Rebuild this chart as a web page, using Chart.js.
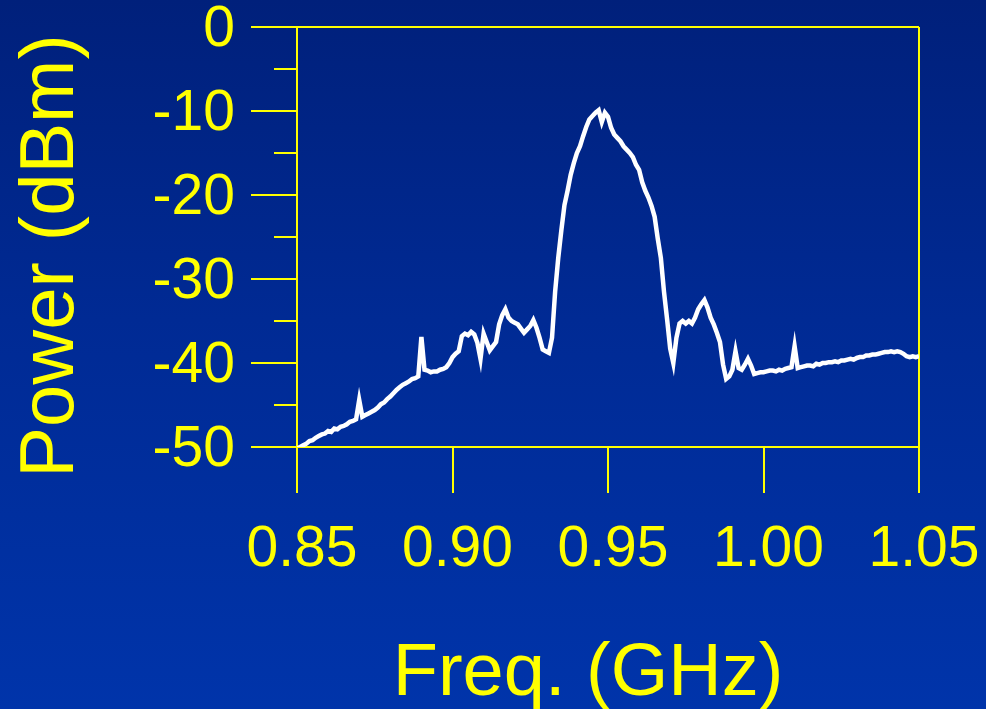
<!DOCTYPE html>
<html>
<head>
<meta charset="utf-8">
<script src="https://cdn.jsdelivr.net/npm/chart.js@4/dist/chart.umd.min.js"></script>
<style>
  html, body { margin: 0; padding: 0; }
  body {
    width: 986px; height: 709px; overflow: hidden;
    background: linear-gradient(180deg, #00207b 0%, #002a94 45%, #0034aa 100%);
  }
  canvas { display: block; }
</style>
</head>
<body>
<canvas id="spectrum" width="986" height="709"></canvas>
<script>
// Sweep: 0.850 GHz to 1.050 GHz in 1 MHz steps
const START_GHZ = 0.850;
const STEP_GHZ = 0.001;

// Measured power, dBm, one value per sweep step
const POWER_DBM = [
  -50.2, -50.0, -49.8, -49.6, -49.3, -49.2, -48.9, -48.7, -48.5, -48.4,
  -48.1, -48.2, -47.8, -47.9, -47.6, -47.5, -47.3, -47.0, -46.9, -46.7,
  -44.4, -46.4, -46.2, -46.0, -45.8, -45.6, -45.3, -44.9, -44.7, -44.3,
  -44.0, -43.6, -43.2, -42.9, -42.6, -42.4, -42.2, -41.9, -41.8, -41.6,
  -36.9, -40.8, -40.9, -41.1, -41.0, -41.0, -40.8, -40.7, -40.5, -40.0,
  -39.3, -38.9, -38.6, -36.8, -36.5, -36.7, -36.3, -36.6, -37.6, -39.5,
  -36.5, -37.5, -38.5, -38.0, -37.5, -35.4, -34.3, -33.6, -34.6, -35.0,
  -35.2, -35.4, -35.9, -36.4, -36.0, -35.6, -34.9, -35.8, -37.0, -38.4,
  -38.6, -38.8, -37.0, -31.5, -27.5, -24.2, -21.2, -19.5, -17.6, -16.2,
  -15.0, -14.2, -13.0, -11.9, -11.0, -10.6, -10.2, -9.9, -11.3, -10.2,
  -10.7, -12.0, -12.8, -13.2, -13.6, -14.2, -14.6, -15.0, -15.5, -16.4,
  -17.0, -18.5, -19.5, -20.3, -21.3, -22.6, -25.2, -27.5, -31.5, -34.8,
  -38.3, -40.0, -37.0, -35.3, -35.0, -35.3, -35.0, -35.3, -34.6, -33.6,
  -33.0, -32.5, -33.4, -34.6, -35.4, -36.4, -37.5, -40.2, -41.9, -41.6,
  -40.8, -38.6, -40.6, -40.8, -40.2, -39.5, -40.3, -41.3, -41.2, -41.1,
  -41.1, -41.0, -40.9, -40.9, -41.0, -40.8, -40.9, -40.7, -40.6, -40.5,
  -38.0, -40.6, -40.5, -40.4, -40.3, -40.3, -40.4, -40.1, -40.2, -40.0,
  -40.0, -39.9, -39.9, -39.8, -39.9, -39.7, -39.7, -39.6, -39.5, -39.6,
  -39.4, -39.3, -39.3, -39.1, -39.1, -39.0, -39.0, -38.9, -38.8, -38.7,
  -38.7, -38.6, -38.7, -38.6, -38.7, -38.9, -39.2, -39.3, -39.2, -39.3,
  -39.2
];

const X_TICKS = [0.85, 0.90, 0.95, 1.00, 1.05];
const X_TICK_LABELS = ['0.85', '0.90', '0.95', '1.00', '1.05'];
const Y_TICKS = [-50, -40, -30, -20, -10, 0];
const Y_TICK_LABELS = ['-50', '-40', '-30', '-20', '-10', '0'];
const Y_MINOR_TICKS = [-45, -35, -25, -15, -5];

const X_TITLE = 'Freq. (GHz)';
const Y_TITLE = 'Power (dBm)';

const YELLOW = '#ffff00';
const TRACE = '#ffffff';
const FONT = '"Liberation Sans", Arial, Helvetica, sans-serif';
const NONE = 'rgba(0,0,0,0)';

const points = POWER_DBM.map((p, i) => ({
  x: +(START_GHZ + i * STEP_GHZ).toFixed(3),
  y: p
}));

// Labels may overhang the plot frame, so the scales claim no edge padding
function noEdgePadding(s) {
  s.paddingTop = 0; s.paddingBottom = 0;
  s.paddingLeft = 0; s.paddingRight = 0;
}

// Axis titles, drawn after the chart
const axisTitles = {
  id: 'axisTitles',
  afterDraw(chart, args, o) {
    const ctx = chart.ctx;
    ctx.save();
    ctx.fillStyle = o.color;
    ctx.textAlign = 'center';
    ctx.textBaseline = 'alphabetic';
    ctx.font = o.xFont;
    ctx.fillText(X_TITLE, o.xAt[0], o.xAt[1]);
    ctx.translate(o.yAt[0], o.yAt[1]);
    ctx.rotate(-Math.PI / 2);
    ctx.font = o.yFont;
    ctx.fillText(Y_TITLE, 0, 0);
    ctx.restore();
  }
};

new Chart(document.getElementById('spectrum'), {
  type: 'line',
  data: {
    datasets: [{
      data: points,
      borderColor: TRACE,
      borderWidth: 4.5,
      pointRadius: 0,
      tension: 0,
      fill: false
    }]
  },
  options: {
    responsive: false,
    animation: false,
    devicePixelRatio: 1,
    layout: { padding: { top: 27, right: 67, bottom: 0, left: 0 } },
    plugins: {
      legend: { display: false },
      tooltip: { enabled: false },
      axisTitles: {
        color: YELLOW,
        xFont: '74px ' + FONT,
        yFont: '76px ' + FONT,
        xAt: [588, 695],
        yAt: [73, 256]
      }
    },
    scales: {
      x: {
        type: 'linear',
        position: 'bottom',
        min: 0.85,
        max: 1.05,
        afterBuildTicks: s => { s.ticks = X_TICKS.map(v => ({ value: v })); },
        afterFit: s => { s.height = 262; noEdgePadding(s); },
        ticks: {
          color: YELLOW,
          font: { family: FONT, size: 57, lineHeight: 0.9 },
          padding: 32,
          labelOffset: 5,
          maxRotation: 0,
          autoSkip: false,
          callback: v => X_TICK_LABELS[X_TICKS.indexOf(v)]
        },
        grid: {
          drawOnChartArea: true,
          drawTicks: true,
          tickLength: 46,
          lineWidth: 2,
          color: c => (c.tick && c.tick.value === X_TICKS[X_TICKS.length - 1]) ? YELLOW : NONE,
          tickColor: YELLOW,
          tickWidth: 2
        },
        border: { display: true, color: YELLOW, width: 2 }
      },
      y: {
        type: 'linear',
        position: 'left',
        weight: 1,
        min: -50,
        max: 0,
        afterBuildTicks: s => { s.ticks = Y_TICKS.map(v => ({ value: v })); },
        afterFit: s => { s.width = 297; noEdgePadding(s); },
        ticks: {
          color: YELLOW,
          font: { family: FONT, size: 57, lineHeight: 0.9 },
          padding: 16,
          labelOffset: 3,
          autoSkip: false,
          callback: v => Y_TICK_LABELS[Y_TICKS.indexOf(v)]
        },
        grid: {
          drawOnChartArea: true,
          drawTicks: true,
          tickLength: 46,
          lineWidth: 2,
          color: c => (c.tick && c.tick.value === Y_TICKS[Y_TICKS.length - 1]) ? YELLOW : NONE,
          tickColor: YELLOW,
          tickWidth: 2
        },
        border: { display: true, color: YELLOW, width: 2 }
      },
      yMinor: {
        type: 'linear',
        position: 'left',
        weight: 0,
        min: -50,
        max: 0,
        afterBuildTicks: s => { s.ticks = Y_MINOR_TICKS.map(v => ({ value: v })); },
        afterFit: s => { s.width = 0; noEdgePadding(s); },
        ticks: { display: false },
        grid: {
          drawOnChartArea: false,
          drawTicks: true,
          tickLength: 23,
          lineWidth: 2,
          tickColor: YELLOW,
          tickWidth: 2
        },
        border: { display: false }
      }
    }
  },
  plugins: [axisTitles]
});
</script>
</body>
</html>
